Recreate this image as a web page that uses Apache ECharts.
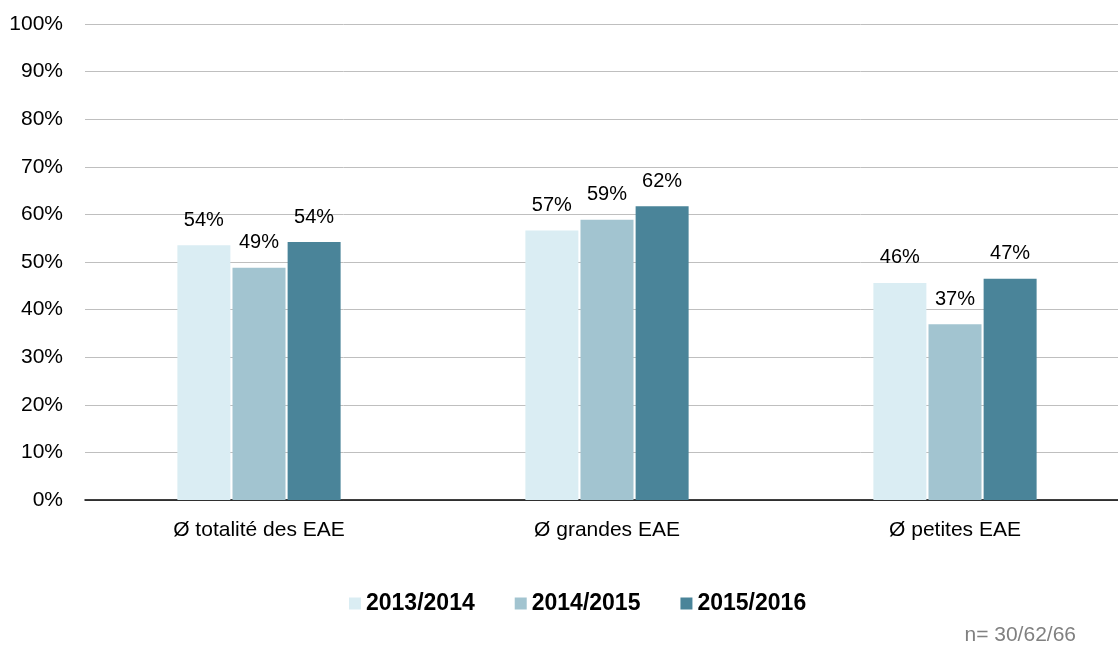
<!DOCTYPE html>
<html>
<head>
<meta charset="utf-8">
<script src="https://cdn.jsdelivr.net/npm/echarts@6/dist/echarts.min.js"></script>
<style>
  html, body { margin: 0; padding: 0; background: #fff; }
  #chart { width: 1118px; height: 648px; }
</style>
</head>
<body>
<div id="chart"></div>
<script>
// données
const categories = ['Ø totalité des EAE', 'Ø grandes EAE', 'Ø petites EAE']
const seriesNames = ['2013/2014', '2014/2015', '2015/2016']
const values2013 = [53.5, 56.6, 45.6]
const values2014 = [48.8, 58.9, 36.9]
const values2015 = [54.2, 61.7, 46.5]
const colors = ['#DAEDF3', '#A2C4D0', '#4A8499']

const font = 'Liberation Sans, Arial, sans-serif'
const chart = echarts.init(document.getElementById('chart'))

function makeSeries(name, data, color) {
  return {
    name: name,
    type: 'bar',
    data: data,
    barWidth: 53,
    barGap: '4%',
    itemStyle: { color: color },
    label: {
      show: true,
      position: 'top',
      distance: 15,
      color: '#000',
      fontSize: 20,
      fontFamily: font,
      formatter: p => Math.round(p.value) + '%'
    },
    animation: false
  }
}

chart.setOption({
  color: colors,
  grid: { left: 85, width: 1044, top: 24, bottom: 148, outerBoundsMode: 'none' },
  legend: {
    data: seriesNames,
    bottom: 28,
    left: 344,
    itemWidth: 12,
    itemHeight: 12,
    itemGap: 40,
    icon: 'rect',
    textStyle: { fontSize: 23, fontWeight: 'bold', fontFamily: font, color: '#000' }
  },
  xAxis: {
    type: 'category',
    data: categories,
    axisLine: { lineStyle: { color: '#000', width: 1.5 } },
    axisTick: { show: false },
    axisLabel: { fontSize: 21, fontFamily: font, color: '#000', margin: 20 }
  },
  yAxis: {
    type: 'value',
    min: 0,
    max: 100,
    interval: 10,
    axisLine: { show: false },
    axisTick: { show: false },
    axisLabel: { fontSize: 21, fontFamily: font, color: '#000', margin: 22, formatter: '{value}%' },
    splitLine: { lineStyle: { color: '#BFBFBF', width: 1 } }
  },
  graphic: [{
    type: 'text',
    right: 42,
    bottom: 2,
    style: { text: 'n= 30/62/66', fontSize: 21, fontFamily: font, fill: '#808080' }
  }],
  series: [
    makeSeries(seriesNames[0], values2013, colors[0]),
    makeSeries(seriesNames[1], values2014, colors[1]),
    makeSeries(seriesNames[2], values2015, colors[2])
  ]
})
</script>
</body>
</html>
